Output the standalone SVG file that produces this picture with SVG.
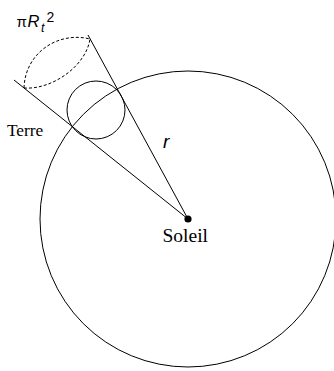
<svg xmlns="http://www.w3.org/2000/svg" width="334" height="371" viewBox="0 0 334 371">
<style>
.ln{fill:none;stroke:#000;stroke-width:1}
.dash{fill:none;stroke:#000;stroke-width:1;stroke-dasharray:3 2}
.serif{font-family:"Liberation Serif","Times New Roman",serif;fill:#000}
.sans{font-family:"Liberation Sans",Arial,sans-serif;fill:#000}
</style>
<rect width="334" height="371" fill="#fff"/>
<g id="orbit">
<circle class="ln" cx="188" cy="219" r="148"/>
</g>
<g id="connectors">
<line class="ln" x1="188" y1="219" x2="88" y2="35"/>
<line class="ln" x1="188" y1="219" x2="14" y2="80"/>
</g>
<g id="section">
<path class="dash" d="M24,88 C25,53 58,31 90,39"/>
<path class="dash" d="M24,88 C52,90 86,66 90,39"/>
<text class="sans" font-size="15"><tspan x="16.5" y="26.5">π</tspan><tspan x="27.5" font-size="16.5" font-style="italic">R</tspan><tspan x="41" y="31.5" font-size="12.5" font-style="italic">t</tspan><tspan x="46.5" y="21.8" font-size="14">2</tspan></text>
</g>
<g id="terre">
<circle class="ln" cx="96" cy="110" r="29"/>
<text class="serif" x="7" y="136" font-size="17.3">Terre</text>
</g>
<g id="soleil">
<circle cx="188" cy="219" r="3.6" fill="#000"/>
<text class="serif" x="162.5" y="242" font-size="19.5">Soleil</text>
</g>
<g id="rayon">
<text class="sans" x="163" y="148" font-size="19" font-style="italic">r</text>
</g>
</svg>
